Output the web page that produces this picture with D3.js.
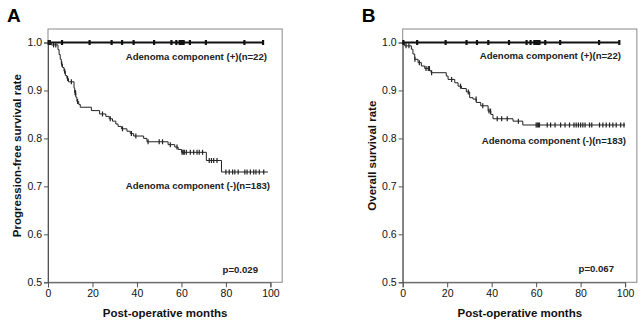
<!DOCTYPE html>
<html>
<head>
<meta charset="utf-8">
<script src="https://cdn.jsdelivr.net/npm/d3@7"></script>
<style>
  body { margin: 0; background: #fff; }
  svg { display: block; font-family: "Liberation Sans", Arial, sans-serif; }
</style>
</head>
<body>
<svg id="chart" width="642" height="324"></svg>
<script>
// ---- data ----
const xTicks = [0, 20, 40, 60, 80, 100];
const yTicks = [0.5, 0.6, 0.7, 0.8, 0.9, 1.0];

// adenoma (+): no events, only censored cases
const posCensorA = [0.3, 0.8, 6.3, 18.7, 28.6, 33.3, 38.5, 47.7, 55.5, 57.7, 59.2, 59.7, 60.2, 60.6, 61.0, 63.8, 71.0, 88.3, 96.7];
const posCensorB = [0.3, 6.5, 19.3, 28.7, 33.4, 38.5, 47.8, 55.7, 57.5, 59.2, 60.0, 60.8, 61.5, 64.1, 70.8, 88.3, 97.4];

// adenoma (-): [time, survival after the drop]
const negStepsA = [
  [0, 1.0], [1.5, 0.995], [4.5, 0.985], [5.0, 0.975], [5.5, 0.965], [6.0, 0.955],
  [6.5, 0.948], [7.2, 0.94], [7.8, 0.931], [8.5, 0.925], [9.2, 0.918], [11.7, 0.905],
  [12.0, 0.895], [12.5, 0.886], [13.0, 0.877], [13.8, 0.871], [14.5, 0.865],
  [19.5, 0.858], [23.2, 0.851], [26.0, 0.846], [27.5, 0.841], [29.0, 0.836],
  [30.5, 0.830], [31.5, 0.825], [33.0, 0.820], [35.5, 0.815], [37.0, 0.810],
  [38.5, 0.805], [43.0, 0.800], [44.5, 0.793], [54.0, 0.787], [57.0, 0.782],
  [58.5, 0.777], [60.0, 0.771], [71.2, 0.754], [78.0, 0.730]
];
const negEndA = 98.9;
const negCensorA = [0.5, 1.0, 2.5, 3.5, 6.2, 7.5, 8.8, 10.5, 12.2, 12.4, 13.3, 24.5, 28, 33.5, 37.5,
  39.5, 45, 50, 51.5, 55, 58, 60.3, 60.8, 61.3, 62.2, 64, 65.5, 67, 68, 69.5, 72.5, 73.5, 74.5,
  76, 80, 81.5, 83, 84, 85.5, 88.5, 89.5, 91, 92.5, 93.5, 95, 97];

const negStepsB = [
  [0, 1.0], [0.9, 0.993], [3.9, 0.986], [4.6, 0.976], [5.4, 0.965], [6.9, 0.958],
  [8.4, 0.951], [9.9, 0.946], [12.1, 0.941], [12.8, 0.937], [19.6, 0.930], [20.4, 0.923],
  [23.4, 0.916], [24.9, 0.909], [26.4, 0.904], [28.6, 0.897], [30.1, 0.885], [31.6, 0.882],
  [33.1, 0.875], [35.1, 0.868], [38.4, 0.857], [39.6, 0.850], [40.6, 0.841],
  [49.6, 0.836], [54.0, 0.828]
];
const negEndB = 100;
const negCensorB = [1.5, 2.8, 5.5, 7.5, 10.5, 11.5, 12, 13, 22, 26, 29.5, 33, 36, 38.8, 39.5, 42.5,
  44.5, 47, 52, 60, 60.5, 61, 61.5, 65, 66.5, 68.5, 71, 73, 75, 77, 78, 79, 80, 81, 82, 84, 85,
  88.5, 90, 91.5, 93, 94.5, 96, 98, 99.5];

const panels = [
  { letter: "A", left: 48, yTitle: "Progression-free survival rate",
    posCensor: posCensorA, negSteps: negStepsA, negEnd: negEndA, negCensor: negCensorA,
    posLabel: [267, 60], negLabel: [270, 189], p: "p=0.029", pPos: [258, 273] },
  { letter: "B", left: 402.7, yTitle: "Overall survival rate",
    posCensor: posCensorB, negSteps: negStepsB, negEnd: negEndB, negCensor: negCensorB,
    posLabel: [621, 59], negLabel: [626, 144], p: "p=0.067", pPos: [614, 272] }
];

const svg = d3.select("#chart");
const plotTop = 29, plotBottom = 282.3;

function survAt(steps, t) {
  let v = steps[0][1];
  for (const s of steps) if (s[0] <= t) v = s[1];
  return v;
}

panels.forEach(p => {
  const x = d3.scaleLinear().domain([0, 100]).range([p.left, p.left + 222.4]);
  const y = d3.scaleLinear().domain([0.5, 1.0]).range([plotBottom, 42.5]);
  const right = x(105.3);
  const g = svg.append("g");

  // frame
  g.append("rect")
    .attr("x", p.left).attr("y", plotTop)
    .attr("width", right - p.left).attr("height", plotBottom - plotTop)
    .attr("fill", "none").attr("stroke", "#8a8a8a").attr("stroke-width", 1);

  // axes
  const yAxis = g.append("g")
    .attr("transform", `translate(${p.left},0)`)
    .call(d3.axisLeft(y).tickValues(yTicks).tickFormat(d3.format(".1f")).tickSize(4).tickPadding(2));
  const xAxis = g.append("g")
    .attr("transform", `translate(0,${plotBottom})`)
    .call(d3.axisBottom(x).tickValues(xTicks).tickSize(5).tickPadding(2));
  [yAxis, xAxis].forEach(a => {
    a.select(".domain").attr("stroke", "#555");
    a.selectAll(".tick line").attr("stroke", "#555");
    a.selectAll(".tick text").attr("fill", "#111")
      .style("font-size", "10.5px").style("font-family", "'Liberation Sans', Arial, sans-serif");
  });

  // curves
  const line = d3.line().x(d => x(d[0])).y(d => y(d[1])).curve(d3.curveStepAfter);
  const posEnd = d3.max(p.posCensor);
  g.append("path")
    .attr("d", line([[0, 1], [posEnd, 1]]))
    .attr("fill", "none").attr("stroke", "#111").attr("stroke-width", 2);

  const negPts = p.negSteps.concat([[p.negEnd, p.negSteps[p.negSteps.length - 1][1]]]);
  g.append("path")
    .attr("d", line(negPts))
    .attr("fill", "none").attr("stroke", "#222").attr("stroke-width", 1);

  // censor marks
  g.selectAll(".cpos").data(p.posCensor).join("line")
    .attr("x1", d => x(d)).attr("x2", d => x(d))
    .attr("y1", y(1) - 2.5).attr("y2", y(1) + 2.5)
    .attr("stroke", "#111").attr("stroke-width", 2.2);
  g.selectAll(".cneg").data(p.negCensor).join("line")
    .attr("x1", d => x(d)).attr("x2", d => x(d))
    .attr("y1", d => y(survAt(p.negSteps, d)) - 2.5)
    .attr("y2", d => y(survAt(p.negSteps, d)) + 2.5)
    .attr("stroke", "#222").attr("stroke-width", 1.2);

  // labels
  const lab = (txt, pos, size) => g.append("text")
    .attr("x", pos[0]).attr("y", pos[1])
    .attr("text-anchor", "end")
    .attr("font-weight", "bold").attr("font-size", size).attr("fill", "#222")
    .text(txt);
  lab("Adenoma component (+)(n=22)", p.posLabel, "9.6px");
  lab("Adenoma component (-)(n=183)", p.negLabel, "9.6px");
  lab(p.p, p.pPos, "9.6px");

  g.append("text")
    .attr("x", p.left - 41).attr("y", 22)
    .attr("font-weight", "bold").attr("font-size", "19px").attr("fill", "#000")
    .text(p.letter);

  g.append("text")
    .attr("x", (p.left + right) / 2).attr("y", 317)
    .attr("text-anchor", "middle")
    .attr("font-weight", "bold").attr("font-size", "11.5px").attr("fill", "#111")
    .text("Post-operative months");

  g.append("text")
    .attr("transform", `translate(${p.left - 27},${(plotTop + plotBottom) / 2}) rotate(-90)`)
    .attr("text-anchor", "middle")
    .attr("font-weight", "bold").attr("font-size", "11.5px").attr("fill", "#111")
    .text(p.yTitle);
});
</script>
</body>
</html>
